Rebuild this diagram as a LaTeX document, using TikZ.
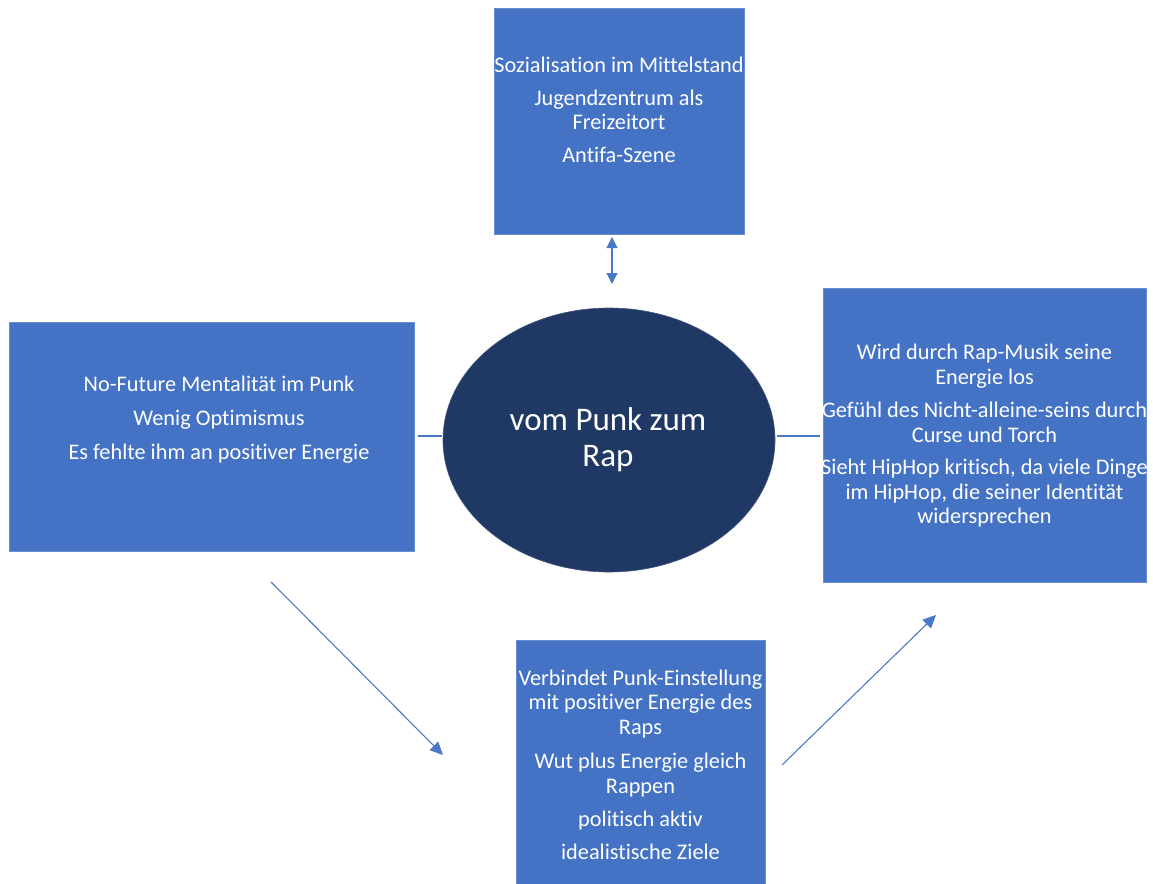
\documentclass[tikz,border=0pt]{standalone}
\usepackage{fontspec}
\setmainfont{Carlito}[Ligatures={NoCommon}]
\usetikzlibrary{shapes.geometric,arrows.meta}
\definecolor{boxblue}{HTML}{4472C4}
\definecolor{navy}{HTML}{203864}
\definecolor{linkblue}{HTML}{4A78C8}
\tikzset{
  infobox/.style={rectangle, fill=boxblue, draw=boxblue!80!white, line width=0.6pt,
    inner sep=0pt, outer sep=0pt},
  infotext/.style={text=white, align=center, inner sep=0pt,
    font=\fontsize{22.3}{24.5}\selectfont},
  hub/.style={ellipse, fill=navy, draw=navy!85!white, line width=0.6pt,
    inner sep=0pt, outer sep=0pt, minimum width=332pt, minimum height=264pt},
  hubtext/.style={text=white, align=center, inner sep=0pt,
    font=\fontsize{33}{36}\selectfont},
  link/.style={draw=linkblue, line width=2pt},
  flow/.style={draw=linkblue, line width=1.1pt, -{Triangle[length=13pt,width=12pt]}},
  both/.style={draw=linkblue, line width=1.1pt,
    {Triangle[length=11pt,width=11pt]}-{Triangle[length=11pt,width=11pt]}}
}
\begin{document}
\begin{tikzpicture}[x=1pt,y=-1pt]
\useasboundingbox (0,0) rectangle (1153,883);

% boxes
\node[infobox, minimum width=250pt, minimum height=226pt] (top) at (619,121) {};
\node[infobox, minimum width=405pt, minimum height=229pt] (left) at (211.5,436.5) {};
\node[infobox, minimum width=323pt, minimum height=294pt] (right) at (984.5,435) {};
\node[infobox, minimum width=249pt, minimum height=250pt] (bottom) at (640.5,765) {};

% central ellipse
\node[hub] (hub) at (609,440) {};

% texts
\node[infotext] (toptext) at (619,110) {Sozialisation im Mittelstand\\[8pt]
  Jugendzentrum als\\ Freizeitort\\[8pt] Antifa-Szene};
\node[infotext] (lefttext) at (219,420) {No-Future Mentalität im Punk\\[9.5pt]
  Wenig Optimismus\\[9.5pt] Es fehlte ihm an positiver Energie};
\node[infotext] (righttext) at (984.5,436) {Wird durch Rap-Musik seine\\ Energie los\\[9pt]
  Gefühl des Nicht-alleine-seins durch\\ Curse und Torch\\[8pt]
  Sieht HipHop kritisch, da viele Dinge\\ im HipHop, die seiner Identität\\ widersprechen};
\node[infotext] (bottomtext) at (640.5,765) {Verbindet Punk-Einstellung\\ mit positiver Energie des\\ Raps\\[10pt]
  Wut plus Energie gleich\\ Rappen\\[9pt] politisch aktiv\\[8.5pt] idealistische Ziele};
\node[hubtext] (hubtext) at (608,440) {vom Punk zum\\ Rap};

% connector end points
\coordinate (a1) at (612,237);
\coordinate (a2) at (612,284);
\coordinate (l1) at (418,436);
\coordinate (l2) at (442,436);
\coordinate (r1) at (777,436);
\coordinate (r2) at (820,436);
\coordinate (d1) at (271,582);
\coordinate (d2) at (443,755);
\coordinate (u1) at (782,765);
\coordinate (u2) at (936,615);

% connectors
\draw[both] (a1) -- (a2);
\draw[link] (l1) -- (l2);
\draw[link] (r1) -- (r2);
\draw[flow] (d1) -- (d2);
\draw[flow] (u1) -- (u2);
\end{tikzpicture}
\end{document}
